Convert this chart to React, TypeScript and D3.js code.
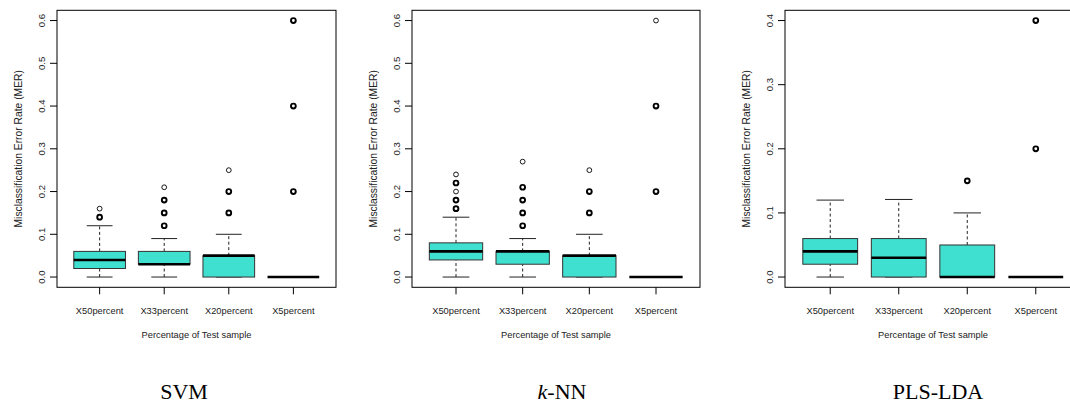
import React from "react";
import * as d3 from "d3";

// Boxplot summaries per group: [lower whisker, Q1, median, Q3, upper whisker]
const categories = ["X50percent", "X33percent", "X20percent", "X5percent"];

const svmStats = [
  [0, 0.02, 0.04, 0.06, 0.12],
  [0, 0.03, 0.03, 0.06, 0.09],
  [0, 0, 0.05, 0.05, 0.1],
  [0, 0, 0, 0, 0],
];
const svmOutliers = [
  [0.14, 0.14, 0.16],
  [0.12, 0.12, 0.15, 0.15, 0.18, 0.18, 0.21],
  [0.15, 0.15, 0.2, 0.2, 0.25],
  [0.2, 0.2, 0.4, 0.4, 0.6, 0.6],
];

const knnStats = [
  [0, 0.04, 0.06, 0.08, 0.14],
  [0, 0.03, 0.06, 0.06, 0.09],
  [0, 0, 0.05, 0.05, 0.1],
  [0, 0, 0, 0, 0],
];
const knnOutliers = [
  [0.16, 0.16, 0.18, 0.18, 0.2, 0.22, 0.22, 0.24],
  [0.12, 0.12, 0.15, 0.15, 0.18, 0.18, 0.21, 0.21, 0.27],
  [0.15, 0.15, 0.2, 0.2, 0.25],
  [0.2, 0.2, 0.4, 0.4, 0.6],
];

const plsStats = [
  [0, 0.02, 0.04, 0.06, 0.12],
  [0, 0, 0.03, 0.06, 0.121],
  [0, 0, 0, 0.05, 0.1],
  [0, 0, 0, 0, 0],
];
const plsOutliers = [[], [], [0.15, 0.15], [0.2, 0.2, 0.4, 0.4]];

const svmTicks = [0, 0.1, 0.2, 0.3, 0.4, 0.5, 0.6];
const knnTicks = [0, 0.1, 0.2, 0.3, 0.4, 0.5, 0.6];
const plsTicks = [0, 0.1, 0.2, 0.3, 0.4];

const yLabel = "Misclassification Error Rate (MER)";
const xLabel = "Percentage of Test sample";

const WIDTH = 1070;
const HEIGHT = 403;
const TOP = 10.3;
const BOTTOM = 287.3;
const FILL = "#40E0D0";
const SANS = "'Liberation Sans', Arial, Helvetica, sans-serif";
const SERIF = "'Liberation Serif', 'Times New Roman', serif";

type PanelProps = {
  left: number;
  right: number;
  stats: number[][];
  outliers: number[][];
  ticks: number[];
};

function Panel({ left, right, stats, outliers, ticks }: PanelProps) {
  const n = categories.length;
  const ymax = ticks[ticks.length - 1];
  // base R style: 4% padding on each side of the data range
  const padX = n * 0.04;
  const x = d3
    .scaleLinear()
    .domain([0.5 - padX, n + 0.5 + padX])
    .range([left, right]);
  const y = d3
    .scaleLinear()
    .domain([-ymax * 0.04, ymax * 1.04])
    .range([BOTTOM, TOP]);
  const step = x(2) - x(1);
  const boxW = step * 0.8;
  const stapleW = boxW * 0.5;
  const fmt = d3.format(".1f");
  const cy = (TOP + BOTTOM) / 2;
  const cx = (left + right) / 2;

  return (
    <g>
      {/* y ticks and labels */}
      {ticks.map((t) => (
        <g key={"yt" + t}>
          <line x1={left - 7} x2={left} y1={y(t)} y2={y(t)} stroke="#000" strokeWidth={1} />
          <text
            transform={`translate(${left - 16},${y(t)}) rotate(-90)`}
            textAnchor="middle"
            dominantBaseline="central"
            fontFamily={SANS}
            fontSize={9.6}
            fill="#222"
          >
            {fmt(t)}
          </text>
        </g>
      ))}
      <text
        transform={`translate(${left - 38.4},${cy}) rotate(-90)`}
        textAnchor="middle"
        dominantBaseline="central"
        fontFamily={SANS}
        fontSize={10.3}
        fill="#222"
      >
        {yLabel}
      </text>

      {/* boxes, whiskers, staples, medians and outliers */}
      {stats.map((s, i) => {
        const xc = x(i + 1);
        const [lo, q1, med, q3, hi] = s;
        return (
          <g key={"b" + i}>
            <line x1={xc} x2={xc} y1={y(q3)} y2={y(hi)} stroke="#222" strokeWidth={1} strokeDasharray="3,2.5" />
            <line x1={xc} x2={xc} y1={y(lo)} y2={y(q1)} stroke="#222" strokeWidth={1} strokeDasharray="3,2.5" />
            <line x1={xc - stapleW / 2} x2={xc + stapleW / 2} y1={y(hi)} y2={y(hi)} stroke="#222" strokeWidth={1} />
            <line x1={xc - stapleW / 2} x2={xc + stapleW / 2} y1={y(lo)} y2={y(lo)} stroke="#222" strokeWidth={1} />
            <rect
              x={xc - boxW / 2}
              y={y(q3)}
              width={boxW}
              height={Math.max(0, y(q1) - y(q3))}
              fill={FILL}
              stroke="#333"
              strokeWidth={1}
            />
            <line x1={xc - boxW / 2} x2={xc + boxW / 2} y1={y(med)} y2={y(med)} stroke="#000" strokeWidth={2.6} />
            {Array.from(d3.rollup(outliers[i], (v) => v.length, (d) => d)).map(([v, c]) => (
              <circle
                key={"o" + v}
                cx={xc}
                cy={y(v)}
                r={2.4}
                fill="none"
                stroke="#000"
                strokeWidth={c > 1 ? 1.9 : 0.9}
              />
            ))}
          </g>
        );
      })}

      {/* frame */}
      <rect x={left} y={TOP} width={right - left} height={BOTTOM - TOP} fill="none" stroke="#000" strokeWidth={1} />

      {/* x ticks and labels */}
      {categories.map((c, i) => (
        <g key={"xt" + c}>
          <line x1={x(i + 1)} x2={x(i + 1)} y1={BOTTOM} y2={BOTTOM + 7} stroke="#000" strokeWidth={1} />
          <text x={x(i + 1)} y={314} textAnchor="middle" fontFamily={SANS} fontSize={9.3} fill="#222">
            {c}
          </text>
        </g>
      ))}
      <text x={cx} y={337.5} textAnchor="middle" fontFamily={SANS} fontSize={9.3} fill="#222">
        {xLabel}
      </text>
    </g>
  );
}

export default function App() {
  return (
    <svg
      width={WIDTH}
      height={HEIGHT}
      style={{ position: "absolute", left: 0, top: 0, background: "#fff" }}
    >
      <rect x={0} y={0} width={WIDTH} height={HEIGHT} fill="#fff" />
      <Panel left={57} right={336} stats={svmStats} outliers={svmOutliers} ticks={svmTicks} />
      <Panel left={412} right={700} stats={knnStats} outliers={knnOutliers} ticks={knnTicks} />
      <Panel left={785} right={1081} stats={plsStats} outliers={plsOutliers} ticks={plsTicks} />

      <text x={184} y={399} textAnchor="middle" fontFamily={SERIF} fontSize={22} fill="#000">
        SVM
      </text>
      <text x={562} y={399} textAnchor="middle" fontFamily={SERIF} fontSize={22} fill="#000">
        <tspan fontStyle="italic">k</tspan>-NN
      </text>
      <text x={938} y={399} textAnchor="middle" fontFamily={SERIF} fontSize={22} fill="#000">
        PLS-LDA
      </text>
    </svg>
  );
}
